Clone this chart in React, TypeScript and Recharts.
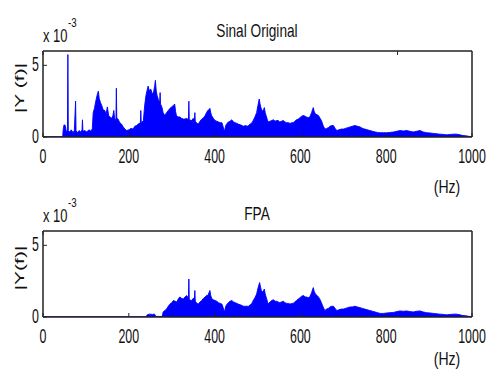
import { Area, ComposedChart, XAxis, YAxis } from 'recharts';

const xTicks = [0, 200, 400, 600, 800, 1000];
const yTicks = [0, 5];
const titles = ['Sinal Original', 'FPA'];
const yLabels = ['|Y (f)|', '|Y(f)|'];
const xUnit = '(Hz)';
const scaleBase = 'x 10';
const scaleExp = '-3';

// [Hz, |Y(f)| in units of 1e-3]
const sinalOriginal: [number, number][] = [
  [0, 0.02], [46, 0.02], [47, 0.5], [49, 0.85], [52, 0.8], [54, 0.4], [57, 0.45], [58, 5.75], [59, 0.45],
  [62, 0.35], [66, 0.5], [70, 0.3], [73, 0.45], [76, 2.5], [77, 0.45], [80, 0.3], [84, 0.45], [88, 0.35],
  [91, 0.5], [92, 1.2], [93, 0.4], [97, 0.45], [102, 0.35], [107, 0.5], [112, 0.4], [115, 0.6], [117, 1.7],
  [120, 2.0], [123, 2.5], [126, 2.9], [129, 3.2], [131, 2.7], [134, 2.4], [137, 2.2], [140, 1.9], [144, 1.85],
  [147, 1.6], [150, 2.1], [153, 1.5], [156, 1.4], [160, 1.3], [163, 1.5], [165, 1.85], [167, 1.3], [170, 1.2],
  [171, 3.4], [172, 1.3], [175, 1.25], [179, 1.0], [183, 0.9], [187, 0.7], [191, 0.55], [195, 0.45], [200, 0.5],
  [205, 0.6], [210, 0.55], [214, 0.75], [218, 0.8], [222, 0.9], [227, 1.0], [228, 1.85], [229, 1.0], [234, 1.15],
  [237, 2.2], [240, 2.9], [243, 3.3], [245, 3.55], [248, 3.2], [251, 3.35], [254, 3.1], [257, 3.0], [260, 3.5],
  [262, 3.95], [264, 3.2], [266, 2.9], [269, 2.6], [272, 2.4], [273, 3.1], [274, 2.3], [277, 2.1], [280, 1.7],
  [284, 1.5], [288, 1.7], [292, 1.85], [296, 2.0], [300, 2.1], [304, 2.2], [307, 2.3], [309, 1.8], [311, 1.5],
  [315, 1.4], [319, 1.4], [323, 1.3], [327, 1.25], [331, 1.25], [335, 1.3], [339, 1.2], [340, 2.5], [341, 1.2],
  [347, 1.15], [350, 1.3], [353, 1.2], [354, 1.7], [355, 1.1], [359, 0.95], [362, 0.9], [366, 1.1], [370, 1.25],
  [374, 1.35], [378, 1.5], [381, 1.7], [384, 1.85], [387, 1.9], [389, 2.0], [391, 1.7], [393, 1.5], [397, 1.3],
  [401, 1.15], [405, 1.1], [409, 1.05], [413, 1.0], [417, 1.0], [420, 0.7], [423, 0.4], [426, 0.8], [428, 0.9],
  [432, 1.05], [436, 1.1], [440, 1.2], [444, 1.05], [448, 1.0], [452, 0.95], [455, 0.9], [460, 0.85], [464, 0.8],
  [467, 0.75], [472, 0.8], [476, 0.75], [479, 0.8], [483, 0.9], [487, 1.0], [490, 1.15], [494, 1.4], [498, 1.7],
  [501, 2.2], [504, 2.65], [506, 2.3], [508, 2.05], [511, 1.8], [514, 1.9], [516, 2.05], [518, 1.7], [520, 1.5],
  [523, 1.2], [525, 1.05], [529, 1.1], [533, 1.15], [537, 1.2], [541, 1.1], [544, 1.15], [548, 1.15], [552, 1.05],
  [556, 1.1], [560, 1.15], [564, 1.05], [568, 1.0], [572, 1.0], [576, 0.95], [580, 1.0], [583, 1.0], [587, 1.1],
  [591, 1.2], [595, 1.25], [599, 1.35], [603, 1.45], [607, 1.5], [611, 1.45], [614, 1.4], [618, 1.35], [622, 1.4],
  [626, 1.7], [630, 2.05], [632, 1.8], [635, 1.6], [639, 1.55], [642, 1.5], [646, 1.3], [649, 1.15], [653, 0.8],
  [657, 0.55], [661, 0.6], [665, 0.65], [669, 0.75], [673, 0.8], [677, 0.8], [681, 0.6], [685, 0.45], [690, 0.5],
  [695, 0.55], [700, 0.55], [705, 0.6], [710, 0.65], [716, 0.7], [721, 0.75], [727, 0.8], [733, 0.75], [739, 0.7],
  [745, 0.6], [750, 0.55], [756, 0.5], [762, 0.45], [768, 0.4], [774, 0.35], [780, 0.32], [786, 0.3], [794, 0.3],
  [801, 0.3], [809, 0.32], [817, 0.35], [825, 0.4], [832, 0.45], [840, 0.42], [848, 0.45], [855, 0.4], [863, 0.35],
  [871, 0.4], [879, 0.45], [886, 0.35], [894, 0.3], [902, 0.28], [910, 0.25], [918, 0.22], [925, 0.2], [933, 0.18],
  [941, 0.15], [950, 0.18], [958, 0.2], [964, 0.2], [972, 0.15], [979, 0.1], [986, 0.08], [992, 0.05], [1000, 0.02],
];

const fpa: [number, number][] = [
  [0, 0.02], [240, 0.02], [243, 0.15], [248, 0.2], [255, 0.18], [260, 0.2], [263, 0.04], [278, 0.04], [280, 0.35],
  [284, 0.45], [288, 0.55], [292, 0.75], [296, 0.9], [300, 1.0], [304, 1.15], [308, 1.1], [312, 1.05], [316, 1.3],
  [319, 1.4], [323, 1.3], [327, 1.25], [331, 1.4], [335, 1.5], [339, 1.3], [340, 2.65], [341, 1.2], [347, 1.15],
  [350, 1.3], [353, 1.3], [354, 1.85], [355, 1.1], [359, 0.95], [362, 0.9], [366, 1.05], [370, 1.15], [374, 1.3],
  [378, 1.4], [381, 1.5], [384, 1.5], [387, 1.7], [389, 1.85], [391, 1.5], [393, 1.3], [397, 1.2], [401, 1.15],
  [405, 1.1], [409, 1.0], [413, 0.95], [417, 0.9], [420, 0.65], [423, 0.35], [426, 0.75], [428, 0.85], [432, 1.0],
  [436, 1.1], [440, 1.15], [444, 1.05], [448, 1.0], [452, 0.95], [455, 0.9], [460, 0.85], [464, 0.8], [467, 0.75],
  [472, 0.75], [476, 0.75], [479, 0.75], [483, 0.85], [487, 0.95], [490, 1.15], [494, 1.35], [498, 1.6], [501, 2.0],
  [505, 2.4], [507, 2.1], [509, 1.85], [512, 1.75], [514, 1.85], [516, 1.95], [518, 1.6], [520, 1.4], [523, 1.1],
  [525, 0.9], [529, 1.05], [533, 1.15], [537, 1.2], [541, 1.1], [544, 1.1], [548, 1.05], [552, 1.0], [556, 1.05],
  [560, 1.1], [564, 1.0], [568, 0.95], [572, 0.95], [576, 0.9], [580, 0.95], [583, 0.95], [587, 1.05], [591, 1.15],
  [595, 1.25], [599, 1.35], [603, 1.45], [607, 1.5], [611, 1.4], [614, 1.4], [618, 1.35], [622, 1.4], [626, 1.7],
  [630, 2.05], [632, 1.8], [635, 1.6], [639, 1.5], [642, 1.4], [646, 1.2], [649, 1.0], [653, 0.7], [657, 0.45],
  [661, 0.55], [665, 0.6], [669, 0.7], [673, 0.75], [677, 0.75], [681, 0.6], [685, 0.45], [690, 0.5], [695, 0.55],
  [700, 0.55], [705, 0.6], [710, 0.65], [716, 0.7], [721, 0.7], [727, 0.75], [733, 0.7], [739, 0.65], [745, 0.6],
  [750, 0.55], [756, 0.5], [762, 0.45], [768, 0.4], [774, 0.35], [780, 0.3], [786, 0.25], [794, 0.25], [801, 0.28],
  [809, 0.3], [817, 0.32], [825, 0.38], [832, 0.42], [840, 0.4], [848, 0.42], [855, 0.38], [863, 0.35], [871, 0.4],
  [879, 0.42], [886, 0.35], [894, 0.3], [902, 0.28], [910, 0.25], [918, 0.22], [925, 0.2], [933, 0.18], [941, 0.15],
  [950, 0.18], [958, 0.2], [964, 0.2], [972, 0.15], [979, 0.1], [986, 0.08], [992, 0.05], [1000, 0.02],
];

const W = 489;
const FRAME = '#222';
const BLUE = '#0000ff';
const FONT = '"Liberation Sans", Arial, sans-serif';

function Squeezed({ x, y, size, sx, anchor = 'middle', rotate = false, children }: any) {
  const tf = `translate(${x},${y}) scale(${sx},1)${rotate ? ' rotate(-90)' : ''}`;
  return (
    <text transform={tf} fontSize={size} fontFamily={FONT} textAnchor={anchor} fill="#111">
      {children}
    </text>
  );
}

const BottomTick = ({ x, y, payload }: any) => (
  <g>
    <line x1={x} x2={x} y1={y} y2={y - 4} stroke={FRAME} />
    <Squeezed x={x} y={y + 26} size={20} sx={0.62}>{payload.value}</Squeezed>
  </g>
);

const TopTick = ({ x, y }: any) => <line x1={x} x2={x} y1={y} y2={y + 4} stroke={FRAME} />;

const LeftTick = ({ x, y, payload }: any) => (
  <g>
    <line x1={x} x2={x + 4} y1={y} y2={y} stroke={FRAME} />
    <Squeezed x={x - 4} y={y + 6} size={20} sx={0.62} anchor="end">{payload.value}</Squeezed>
  </g>
);

const RightTick = ({ x, y, payload }: any) =>
  payload.value === 0 ? <g /> : <line x1={x} x2={x - 5} y1={y} y2={y} stroke={FRAME} />;

function Spectrum({ points, height }: { points: [number, number][]; height: number }) {
  const data = points.map(([hz, mag]) => ({ hz, mag }));
  const axisLine = { stroke: FRAME, strokeWidth: 1.5 };
  return (
    <ComposedChart width={W} height={height} data={data} margin={{ top: 50, right: 16, bottom: height - 138, left: 42 }}>
      <XAxis dataKey="hz" type="number" domain={[0, 1000]} ticks={xTicks} interval={0} height={1} tickSize={0} tickMargin={0}
        axisLine={axisLine} tickLine={false} tick={(p: any) => <BottomTick {...p} />} allowDataOverflow />
      <XAxis xAxisId="top" orientation="top" type="number" domain={[0, 1000]} ticks={xTicks} interval={0} height={1}
        tickSize={0} tickMargin={0} axisLine={axisLine} tickLine={false} tick={(p: any) => <TopTick {...p} />} />
      <YAxis type="number" domain={[0, 6]} ticks={yTicks} interval={0} width={1} tickSize={0} tickMargin={0}
        axisLine={axisLine} tickLine={false} tick={(p: any) => <LeftTick {...p} />} allowDataOverflow />
      <YAxis yAxisId="right" orientation="right" type="number" domain={[0, 6]} ticks={yTicks} interval={0} width={1}
        tickSize={0} tickMargin={0} axisLine={axisLine} tickLine={false} tick={(p: any) => <RightTick {...p} />} />
      <Area dataKey="mag" type="linear" stroke={BLUE} strokeWidth={0.9} fill={BLUE} fillOpacity={1}
        baseValue={0} dot={false} activeDot={false} isAnimationActive={false} />
    </ComposedChart>
  );
}

function Labels({ top, idx }: { top: number; idx: number }) {
  return (
    <g transform={`translate(0,${top})`}>
      <Squeezed x={257} y={idx === 0 ? 37 : 40} size={18} sx={0.76}>{titles[idx]}</Squeezed>
      <Squeezed x={43} y={42} size={18} sx={0.72} anchor="start">{scaleBase}</Squeezed>
      <Squeezed x={68} y={27} size={13} sx={0.75} anchor="start">{scaleExp}</Squeezed>
      <Squeezed x={24} y={88} size={21} sx={0.62} rotate>{yLabels[idx]}</Squeezed>
      <Squeezed x={447} y={idx === 0 ? 193 : 185} size={18} sx={0.78}>{xUnit}</Squeezed>
    </g>
  );
}

export default function App() {
  return (
    <div style={{ position: 'absolute', left: 0, top: 0, width: W, height: 369, background: '#fff' }}>
      <div style={{ position: 'absolute', left: 0, top: 0 }}>
        <Spectrum points={sinalOriginal} height={180} />
      </div>
      <div style={{ position: 'absolute', left: 0, top: 180 }}>
        <Spectrum points={fpa} height={189} />
      </div>
      <svg width={W} height={369} style={{ position: 'absolute', left: 0, top: 0, pointerEvents: 'none' }}>
        <Labels top={0} idx={0} />
        <Labels top={180} idx={1} />
      </svg>
    </div>
  );
}
